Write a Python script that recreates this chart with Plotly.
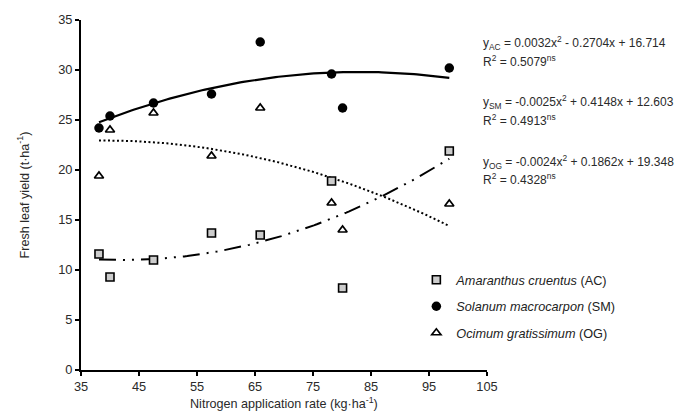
import numpy as np
import plotly.graph_objects as go

# ---- data ----
n_rate = [38.1, 40.0, 47.5, 57.5, 65.9, 78.2, 80.1, 98.5]
ac_yield = [11.6, 9.3, 11.0, 13.7, 13.5, 18.9, 8.2, 21.9]
sm_yield = [24.2, 25.4, 26.7, 27.6, 32.8, 29.6, 26.2, 30.2]
og_yield = [19.4, 24.0, 25.7, 21.4, 26.2, 16.7, 14.0, 16.6]

# quadratic fit coefficients (a, b, c) as printed on the chart
ac_coef = [0.0032, -0.2704, 16.714]
sm_coef = [-0.0025, 0.4148, 12.603]
og_coef = [-0.0024, 0.1862, 19.348]
r2_values = ["0.5079", "0.4913", "0.4328"]
series_tags = ["AC", "SM", "OG"]

x_ticks = [35, 45, 55, 65, 75, 85, 95, 105]
y_ticks = [0, 5, 10, 15, 20, 25, 30, 35]

FONT = "Liberation Sans, Arial, Helvetica, sans-serif"
TXT = "#2a2a2a"

xf = np.linspace(min(n_rate), max(n_rate), 120)


def quad(coef, x):
    return coef[0] * x ** 2 + coef[1] * x + coef[2]


fig = go.Figure()

# fitted curves
fig.add_trace(go.Scatter(x=xf, y=quad(sm_coef, xf), mode="lines",
                         line=dict(color="black", width=2.2), showlegend=False,
                         hoverinfo="skip"))
fig.add_trace(go.Scatter(x=xf, y=quad(og_coef, xf), mode="lines",
                         line=dict(color="black", width=2, dash="2px,2.5px"),
                         showlegend=False, hoverinfo="skip"))
fig.add_trace(go.Scatter(x=xf, y=quad(ac_coef, xf), mode="lines",
                         line=dict(color="black", width=2,
                                   dash="17px,7px,2px,7px,2px,7px"),
                         showlegend=False, hoverinfo="skip"))

# observed points
fig.add_trace(go.Scatter(
    x=n_rate, y=ac_yield, mode="markers", legendgroup="ac",
    name="<i>Amaranthus cruentus</i> (AC)",
    marker=dict(symbol="square", size=8, color="#cccccc",
                line=dict(color="black", width=1.6)),
    cliponaxis=False))
fig.add_trace(go.Scatter(
    x=n_rate, y=sm_yield, mode="markers", legendgroup="sm",
    name="<i>Solanum macrocarpon</i> (SM)",
    marker=dict(symbol="circle", size=9.5, color="black",
                line=dict(color="black", width=0)),
    cliponaxis=False))
fig.add_trace(go.Scatter(
    x=n_rate, y=og_yield, mode="markers", legendgroup="og",
    name="<i>Ocimum gratissimum</i> (OG)",
    marker=dict(symbol="triangle-up", size=8, color="white",
                line=dict(color="black", width=1.7)),
    cliponaxis=False))


def fmt_eq(tag, coef):
    a, b, c = coef

    def term(v, first=False):
        s = f"{abs(v):.4f}" if abs(v) < 1 else f"{abs(v):.3f}"
        if first:
            return ("-" if v < 0 else "") + s
        return (" - " if v < 0 else " + ") + s
    return (f"y<sub>{tag}</sub> = {term(a, True)}x<sup>2</sup>{term(b)}x"
            f"{term(c)}")


eq_pos = [(0.934, 0.884), (0.765, 0.715), (0.595, 0.547)]
for tag, coef, r2, (ye, yr) in zip(series_tags, [ac_coef, sm_coef, og_coef],
                                   r2_values, eq_pos):
    fig.add_annotation(
        xref="paper", yref="paper", x=0.985, y=ye, xanchor="left",
        yanchor="middle", align="left", showarrow=False,
        text=fmt_eq(tag, coef),
        font=dict(family=FONT, size=12, color=TXT))
    fig.add_annotation(
        xref="paper", yref="paper", x=0.985, y=yr, xanchor="left",
        yanchor="middle", align="left", showarrow=False,
        text=f"R<sup>2</sup> = {r2}<sup>ns</sup>",
        font=dict(family=FONT, size=12, color=TXT))

# x-axis title as an annotation to sit close to the tick labels
fig.add_annotation(
    xref="paper", yref="paper", x=0.5, y=-0.094, xanchor="center",
    yanchor="middle", showarrow=False,
    text="Nitrogen application rate (kg·ha<sup>-1</sup>)",
    font=dict(family=FONT, size=12.6, color=TXT))

fig.update_xaxes(
    range=[35, 105], tickvals=x_ticks, ticktext=[str(v) for v in x_ticks],
    showgrid=False, zeroline=False, showline=True, linecolor="black",
    linewidth=2, ticks="outside", ticklen=4, tickwidth=1.5,
    tickcolor="black", tickfont=dict(family=FONT, size=12.8, color=TXT))
fig.update_yaxes(
    range=[0, 35], tickvals=y_ticks, ticktext=[str(v) for v in y_ticks],
    showgrid=False, zeroline=False, showline=True, linecolor="black",
    linewidth=2, ticks="outside", ticklen=4, tickwidth=1.5,
    tickcolor="black", tickfont=dict(family=FONT, size=12.8, color=TXT),
    title=dict(text="Fresh leaf yield (t·ha<sup>-1</sup>)",
               font=dict(family=FONT, size=12.6, color=TXT), standoff=26))

fig.update_layout(
    width=680, height=419,
    margin=dict(l=81, r=193, t=16, b=49),
    paper_bgcolor="white", plot_bgcolor="white",
    font=dict(family=FONT, size=12, color=TXT),
    legend=dict(x=0.826, y=0.30, xanchor="left", yanchor="top",
                bgcolor="rgba(0,0,0,0)", tracegroupgap=7,
                itemwidth=30, font=dict(family=FONT, size=12.7, color="#222")),
    showlegend=True,
)

fig.write_html("out.html")
